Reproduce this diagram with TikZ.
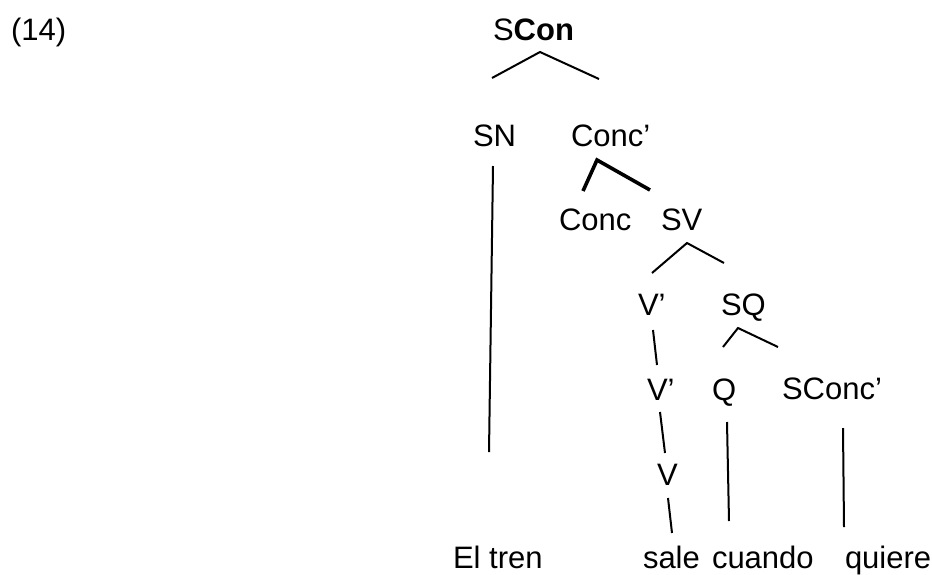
\documentclass[tikz,border=0pt]{standalone}
\usepackage{fontspec}
\setmainfont{Liberation Sans}
\begin{document}
\begin{tikzpicture}[x=1pt,y=-1pt,
  lbl/.style={anchor=base west,inner sep=0pt,outer sep=0pt,font=\fontsize{31}{37}\selectfont},
  edge/.style={line width=2pt,line cap=butt},
  thickedge/.style={line width=3.6pt,line cap=butt}]
\useasboundingbox[fill=white] (0,0) rectangle (932,574);
% labels
\node[lbl] (ex) at (11,40) {(14)};
\node[lbl] (scon) at (493,40) {S\textbf{Con}};
\node[lbl] (sn) at (473,146) {SN};
\node[lbl] (concb) at (571,146) {Conc’};
\node[lbl] (conc) at (559,230) {Conc};
\node[lbl] (sv) at (661,230) {SV};
\node[lbl] (vb1) at (638,315) {V’};
\node[lbl] (sq) at (721,315) {SQ};
\node[lbl] (vb2) at (647,400) {V’};
\node[lbl] (q) at (712,400) {Q};
\node[lbl] (sconcb) at (782,399) {SConc’};
\node[lbl] (v) at (657,485) {V};
\node[lbl] (eltren) at (453,568) {El tren};
\node[lbl] (sale) at (643,568) {sale};
\node[lbl] (cuando) at (712,568) {cuando};
\node[lbl] (quiere) at (845,568) {quiere};
% connector end points
\coordinate (scon-a) at (540,52);
\coordinate (sn-t) at (492,78);
\coordinate (concb-t) at (599,79);
\coordinate (sn-b) at (493,166);
\coordinate (eltren-t) at (489,452);
\coordinate (concb-a) at (597,160);
\coordinate (conc-t) at (583,191);
\coordinate (sv-t) at (650,190);
\coordinate (sv-a) at (687,243);
\coordinate (vb1-t) at (652,273);
\coordinate (sq-t) at (724,263);
\coordinate (vb1-b) at (653,330);
\coordinate (vb2-t) at (657,365);
\coordinate (sq-a) at (738,328);
\coordinate (q-t) at (723,347);
\coordinate (sconcb-t) at (778,347);
\coordinate (vb2-b) at (660,412);
\coordinate (v-t) at (665,453);
\coordinate (v-b) at (668,498);
\coordinate (sale-t) at (672,533);
\coordinate (q-b) at (727,422);
\coordinate (cuando-t) at (729,521);
\coordinate (sconcb-b) at (843,428);
\coordinate (quiere-t) at (844,527);
% connectors
\draw[edge] (sn-t) -- (scon-a) -- (concb-t);
\draw[edge] (sn-b) -- (eltren-t);
\draw[thickedge] (conc-t) -- (concb-a) -- (sv-t);
\draw[edge] (vb1-t) -- (sv-a) -- (sq-t);
\draw[edge] (vb1-b) -- (vb2-t);
\draw[edge] (q-t) -- (sq-a) -- (sconcb-t);
\draw[edge] (vb2-b) -- (v-t);
\draw[edge] (v-b) -- (sale-t);
\draw[edge] (q-b) -- (cuando-t);
\draw[edge] (sconcb-b) -- (quiere-t);
\end{tikzpicture}
\end{document}
